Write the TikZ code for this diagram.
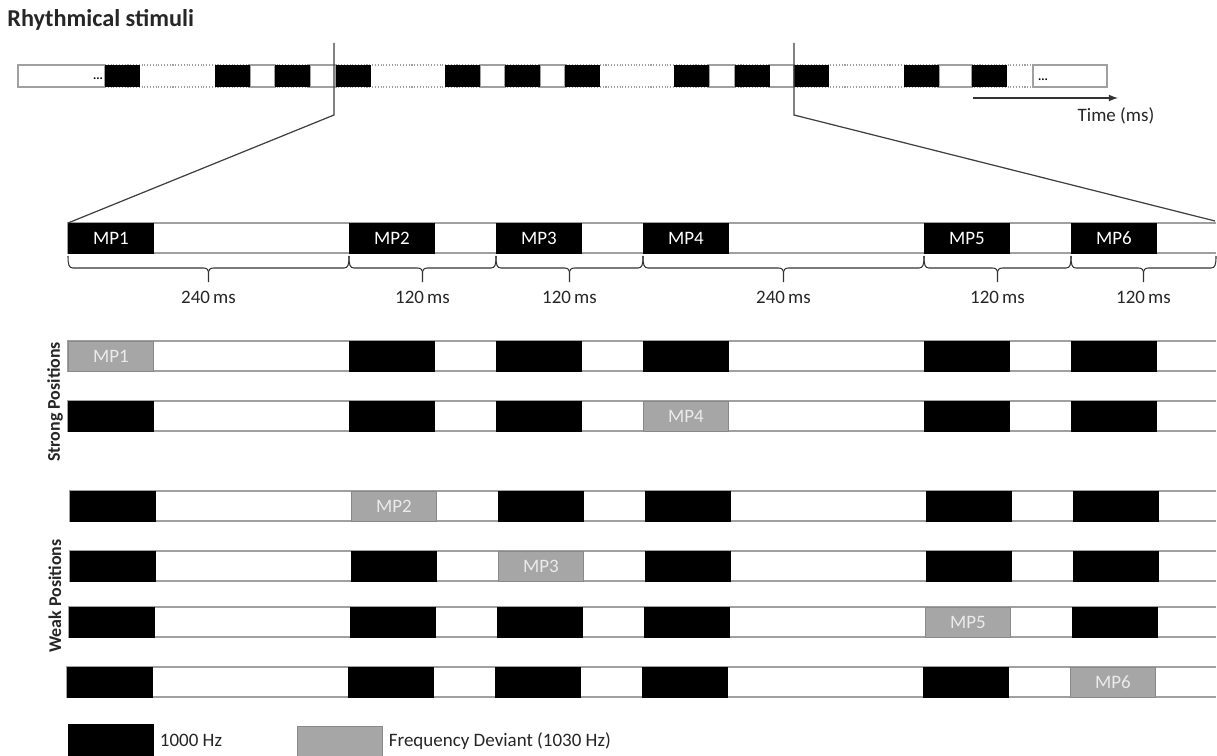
\documentclass[tikz,border=0pt]{standalone}
\usepackage{fontspec}
\setmainfont{Carlito}
\usetikzlibrary{arrows,positioning}

\definecolor{devgray}{RGB}{166,166,166}
\definecolor{devedge}{RGB}{137,137,137}
\definecolor{rowgray}{RGB}{160,160,160}

\begin{document}
\begin{tikzpicture}[x=0.2mm,y=-0.2mm]
	\tikzstyle{Tone}	= [rectangle, anchor=north west, fill=black, draw=black, inner sep=0pt, minimum width=17mm, minimum height=6mm, text=white, font=\fontsize{10.8}{12}\selectfont]
	\tikzstyle{Dev}		= [Tone, fill=devgray, draw=devedge, text=white!92!black]
	\tikzstyle{Tick}	= [rectangle, anchor=north west, fill=black, inner sep=0pt, minimum width=7mm, minimum height=4.4mm]
	\tikzstyle{Row}		= [draw=rowgray, line width=0.6pt]
	\tikzstyle{Brace}	= [draw=black!80, line width=0.6pt]
	\tikzstyle{Zoom}	= [draw=black!75, line width=0.7pt]
	\tikzstyle{Lbl}		= [font=\fontsize{10.8}{12}\selectfont, text=black!85]
	\tikzstyle{Side}	= [rotate=90, font=\bfseries\fontsize{10.2}{12}\selectfont, text=black!85]

	\useasboundingbox [fill=white] (0,0) rectangle (1217,756);

	\node (title) at (7,27) [anchor=base west, inner sep=0pt, font=\bfseries\fontsize{13.8}{15}\selectfont, text=black!85] {Rhythmical stimuli};

	% stimulus stream
	\draw [Row] (18,65) rectangle (105,87);
	\draw [Row] (1033,65) rectangle (1107,87);
	\draw [Row, densely dotted] (105,65) -- (1033,65) (105,87) -- (1033,87);
	\foreach \a/\b in {250/275, 310/336, 480/505, 540/565, 709/735, 769/794, 939/972}
		\draw [Row] (\a,65) rectangle (\b,87);
	\foreach \x [count=\i] in {105,215,275,336,445,505,565,674,735,794,904,972}
		\node (t\i) at (\x,65) [Tick] {};
	\node (dotl) at (98,79) [font=\bfseries\fontsize{7}{8}\selectfont] {...};
	\node (dotr) at (1043,80) [font=\bfseries\fontsize{7}{8}\selectfont] {...};

	\coordinate (t0) at (973,98);
	\coordinate (t1) at (1118,98);
	\draw [-latex, line width=0.8pt, black!80] (t0) -- (t1);
	\node (time) at (1116,116) [Lbl] {Time (ms)};

	% one bar
	\draw [Row] (1216,223) -- (68,223) -- (68,253) -- (1216,253);
	\foreach \x [count=\i] in {68,349,496,643,924,1071}
		\node (mp\i) at (\x,223) [Tone] {MP\i};

	\coordinate (zl) at (334,43);
	\coordinate (zlb) at (334,115);
	\coordinate (zr) at (794,43);
	\coordinate (zrb) at (794,115);
	\coordinate (rowend) at (1215,221);
	\draw [Zoom] (zl) -- (zlb) -- (mp1.north west);
	\draw [Zoom] (zr) -- (zrb) -- (rowend);

	\foreach \a/\b/\t [count=\i] in {68/349/240, 349/496/120, 496/643/120, 643/924/240, 924/1071/120, 1071/1216/120} {
		\pgfmathsetmacro{\m}{(\a+\b)/2}
		\draw [Brace] (\a,256) .. controls (\a,265) and (\a+1,268) .. (\a+5,268) -- (\m-5,268) .. controls (\m-1,268) and (\m,270) .. (\m,274) -- (\m,282);
		\draw [Brace] (\b,256) .. controls (\b,265) and (\b-1,268) .. (\b-5,268) -- (\m+5,268) .. controls (\m+1,268) and (\m,270) .. (\m,274);
		\node (d\i) at (\m,297) [Lbl] {\t\,ms};
	}

	% deviant conditions
	\foreach \r/\y/\o/\d in {1/341/0/1, 2/401/0/4, 3/491/2/2, 4/551/2/3, 5/607/1/5, 6/667/-1/6} {
		\draw [Row] (1216,\y) -- (68+\o,\y) -- (68+\o,\y+30) -- (1216,\y+30);
		\foreach \x [count=\i] in {68,349,496,643,924,1071} {
			\ifnum\i=\d
				\node (r\r-\i) at (\x+\o,\y) [Dev] {MP\i};
			\else
				\node (r\r-\i) at (\x+\o,\y) [Tone] {};
			\fi
		}
	}
	\node (strong) at (55,402) [Side] {Strong Positions};
	\node (weak) at (55,596) [Side] {Weak Positions};

	% legend
	\node (key1) at (68,724) [Tone, minimum height=6.4mm] {};
	\node (key1t) [right=0pt of key1, Lbl] {1000 Hz};
	\node (key2) at (297,726) [Dev] {};
	\node (key2t) [right=0pt of key2, Lbl] {Frequency Deviant (1030 Hz)};
\end{tikzpicture}
\end{document}
